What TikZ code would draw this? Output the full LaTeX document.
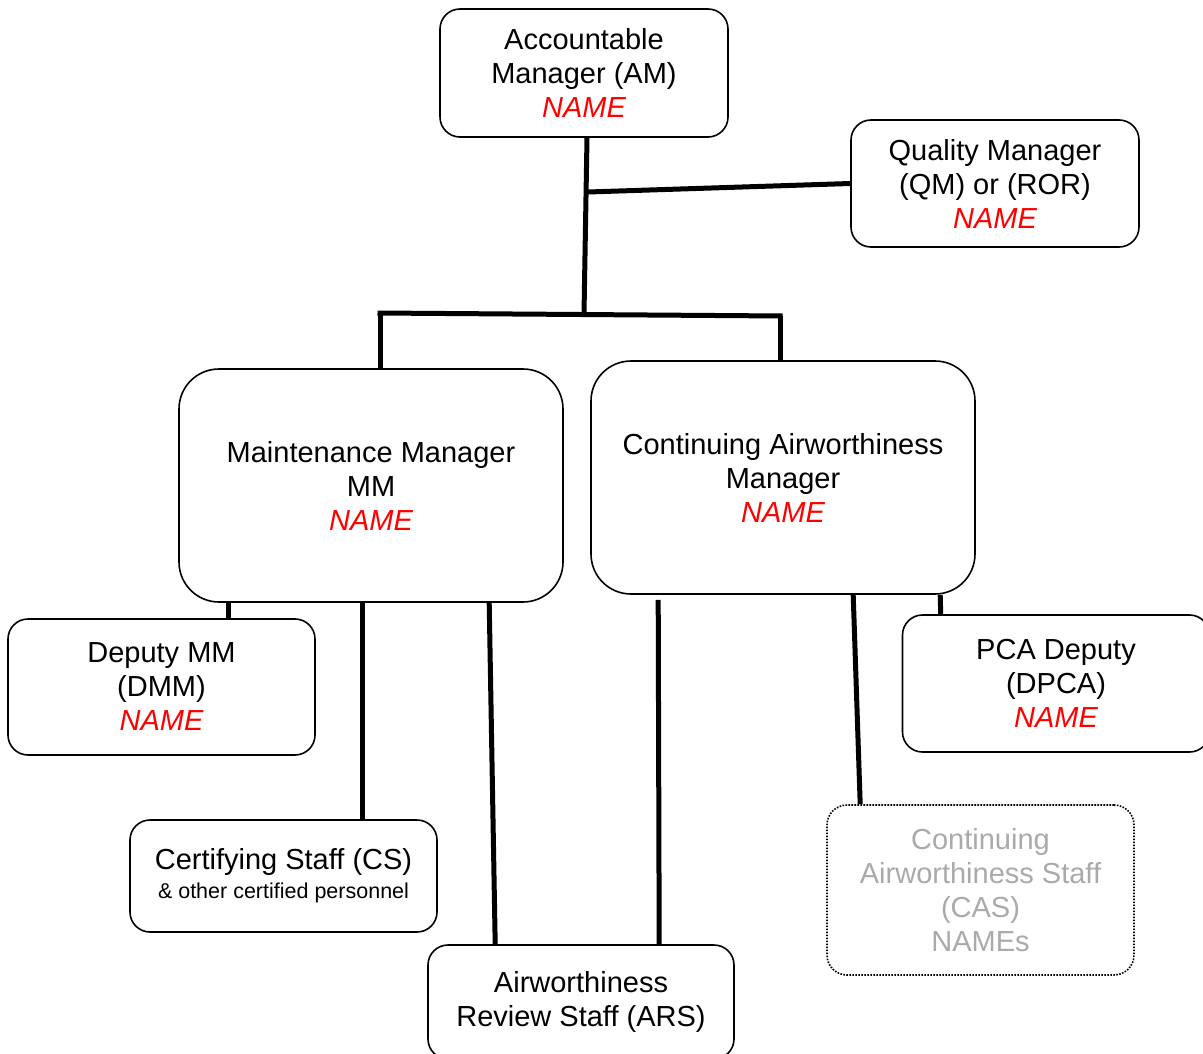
\documentclass[tikz,border=0pt]{standalone}
\usepackage{fontspec}
\setmainfont{Liberation Sans}
\usetikzlibrary{calc}
\definecolor{casgray}{RGB}{170,170,170}
\begin{document}
\begin{tikzpicture}[x=1pt,y=-1pt,
  box/.style={draw, line width=1.6pt, rounded corners=20pt, align=center,
    inner sep=0pt, font=\fontsize{29}{34}\selectfont},
  bigbox/.style={box, rounded corners=40pt},
  conn/.style={line width=5pt, black},
  nm/.style={}]
\useasboundingbox (0,0) rectangle (1203,1054);
\clip (0,0) rectangle (1203,1054);
\fill[white] (0,0) rectangle (1203,1054);

\node[box, minimum width=288pt, minimum height=128pt] (AM) at (584,73)
  {Accountable\\Manager (AM)\\\textcolor{red}{\itshape NAME}};
\node[box, minimum width=288pt, minimum height=127pt] (QM) at (995,183.5)
  {Quality Manager\\(QM) or (ROR)\\\textcolor{red}{\itshape NAME}};
\node[bigbox, minimum width=384pt, minimum height=233pt] (MM) at (371,485.5)
  {Maintenance Manager\\MM\\\textcolor{red}{\itshape NAME}};
\node[bigbox, minimum width=384pt, minimum height=233pt] (CAM) at (783,477.5)
  {Continuing Airworthiness\\Manager\\\textcolor{red}{\itshape NAME}};
\node[box, minimum width=307pt, minimum height=136pt] (DMM) at (161.5,687)
  {Deputy MM\\(DMM)\\\textcolor{red}{\itshape NAME}};
\node[box, minimum width=307pt, minimum height=137pt] (PCA) at (1056,683.5)
  {PCA Deputy\\(DPCA)\\\textcolor{red}{\itshape NAME}};
\node[box, minimum width=307pt, minimum height=112pt] (CS) at (283.5,876)
  {Certifying Staff (CS)\\[-5pt]{\fontsize{21.5}{26}\selectfont \& other certified personnel}};
\node[box, minimum width=306pt, minimum height=114pt] (ARS) at (581,1002)
  {Airworthiness\\Review Staff (ARS)};
\node[box, text=casgray, dash pattern=on 1.6pt off 1.4pt, minimum width=307pt, minimum height=170pt] (CAS) at (980.5,890)
  {Continuing\\Airworthiness Staff\\(CAS)\\NAMEs};

\coordinate (jq) at (588,192);
\coordinate (busM) at (584,314);
\coordinate (busL) at (380,313);
\coordinate (busR) at (780,316);

\draw[conn] ([xshift=3pt]AM.south) -- (busM);
\draw[conn] (jq) -- (QM.west);
\draw[conn] ([xshift=-2.5pt]busL) -- ([xshift=2.5pt]busR);
\draw[conn] (busL) -- (busL |- MM.north);
\draw[conn] (busR) -- (busR |- CAM.north);

\draw[conn] ($(MM.south west)+(50,0)$) -- ($(DMM.north west)+(221,0)$);
\draw[conn] ($(MM.south west)+(184,0)$) -- ($(CS.north west)+(233,0)$);
\draw[conn] ($(MM.south west)+(311,0)$) -- ($(ARS.north west)+(68,0)$);
\draw[conn] ($(CAM.south west)+(68,5)$) -- ($(ARS.north west)+(232,0)$);
\draw[conn] ($(CAM.south west)+(263,0)$) -- ($(CAS.north west)+(34,0)$);
\draw[conn] ($(CAM.south west)+(350,0)$) -- ($(PCA.north west)+(39,0)$);
\end{tikzpicture}
\end{document}
